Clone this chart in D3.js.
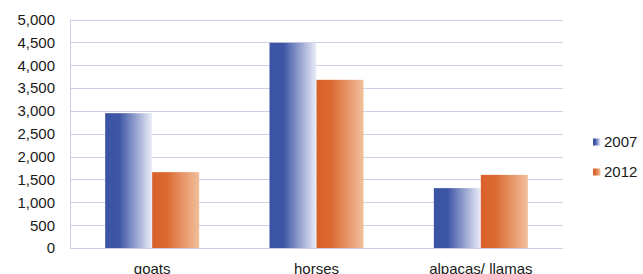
<!DOCTYPE html>
<html>
<head>
<meta charset="utf-8">
<script src="https://cdn.jsdelivr.net/npm/d3@7"></script>
<style>
  body { margin: 0; background: #fff; }
  text { font-family: "Liberation Sans", Arial, sans-serif; fill: #1a1a1a; }
</style>
</head>
<body>
<div id="chart"></div>
<script>
var categories = ["goats", "horses", "alpacas/ llamas"];
var years = ["2007", "2012"];
var values2007 = [2950, 4490, 1310];
var values2012 = [1660, 3680, 1600];
var yTicks = [0, 500, 1000, 1500, 2000, 2500, 3000, 3500, 4000, 4500, 5000];

var W = 643, H = 274;
var plot = {left: 70, right: 563, top: 19.5, bottom: 248};

var svg = d3.select("#chart").append("svg")
    .attr("width", W)
    .attr("height", H);

var defs = svg.append("defs");
var blue = defs.append("linearGradient").attr("id", "gBlue");
blue.append("stop").attr("offset", "0%").attr("stop-color", "#3a53a4");
blue.append("stop").attr("offset", "30%").attr("stop-color", "#3e56a6");
blue.append("stop").attr("offset", "100%").attr("stop-color", "#eceef8");
var orange = defs.append("linearGradient").attr("id", "gOrange");
orange.append("stop").attr("offset", "0%").attr("stop-color", "#d9612a");
orange.append("stop").attr("offset", "30%").attr("stop-color", "#db692f");
orange.append("stop").attr("offset", "100%").attr("stop-color", "#f1bf9c");

var fills = ["url(#gBlue)", "url(#gOrange)"];

var x0 = d3.scaleBand()
  .domain(categories)
  .range([plot.left, plot.right])
  .paddingInner(0)
  .paddingOuter(0);

var barW = 47;
var y = d3.scaleLinear()
  .domain([0, 5000])
  .range([plot.bottom, plot.top]);

// gridlines
svg.append("g").selectAll("line")
  .data(yTicks)
  .enter().append("line")
    .attr("x1", plot.left)
    .attr("x2", plot.right)
    .attr("y1", function(d) { return Math.round(y(d)) + 0.5; })
    .attr("y2", function(d) { return Math.round(y(d)) + 0.5; })
    .attr("stroke", "#cfd0e6")
    .attr("stroke-width", 1);

svg.append("line")
  .attr("x1", plot.left + 0.5).attr("x2", plot.left + 0.5)
  .attr("y1", y(5000)).attr("y2", y(0))
  .attr("stroke", "#cfd0e6");

// y labels
svg.append("g").selectAll("text")
  .data(yTicks)
  .enter().append("text")
    .attr("x", 55)
    .attr("y", function(d) { return y(d); })
    .attr("dy", "0.36em")
    .attr("text-anchor", "end")
    .style("font-size", "15px")
    .text(function(d) { return d3.format(",")(d); });

// bars
var series = [values2007, values2012];
series.forEach(function(vals, s) {
  svg.append("g").selectAll("rect")
    .data(vals)
    .enter().append("rect")
      .attr("x", function(d, i) {
        var c = x0(categories[i]) + x0.bandwidth() / 2;
        return c - barW + s * barW;
      })
      .attr("width", barW)
      .attr("y", function(d) { return y(d); })
      .attr("height", function(d) { return y(0) - y(d); })
      .attr("fill", fills[s]);
});

// category labels
svg.append("g").selectAll("text")
  .data(categories)
  .enter().append("text")
    .attr("x", function(d) { return x0(d) + x0.bandwidth() / 2; })
    .attr("y", 274)
    .attr("text-anchor", "middle")
    .style("font-size", "15px")
    .text(function(d) { return d; });

// legend
var legend = svg.append("g").selectAll("g")
  .data(years)
  .enter().append("g")
    .attr("transform", function(d, i) { return "translate(593," + (142 + i * 30) + ")"; });
legend.append("rect")
  .attr("x", 0).attr("y", -3.5)
  .attr("width", 7.5).attr("height", 7)
  .attr("fill", function(d, i) { return fills[i]; });
legend.append("text")
  .attr("x", 11)
  .attr("y", 0)
  .attr("dy", "0.36em")
  .style("font-size", "15px")
  .text(function(d) { return d; });
</script>
</body>
</html>
